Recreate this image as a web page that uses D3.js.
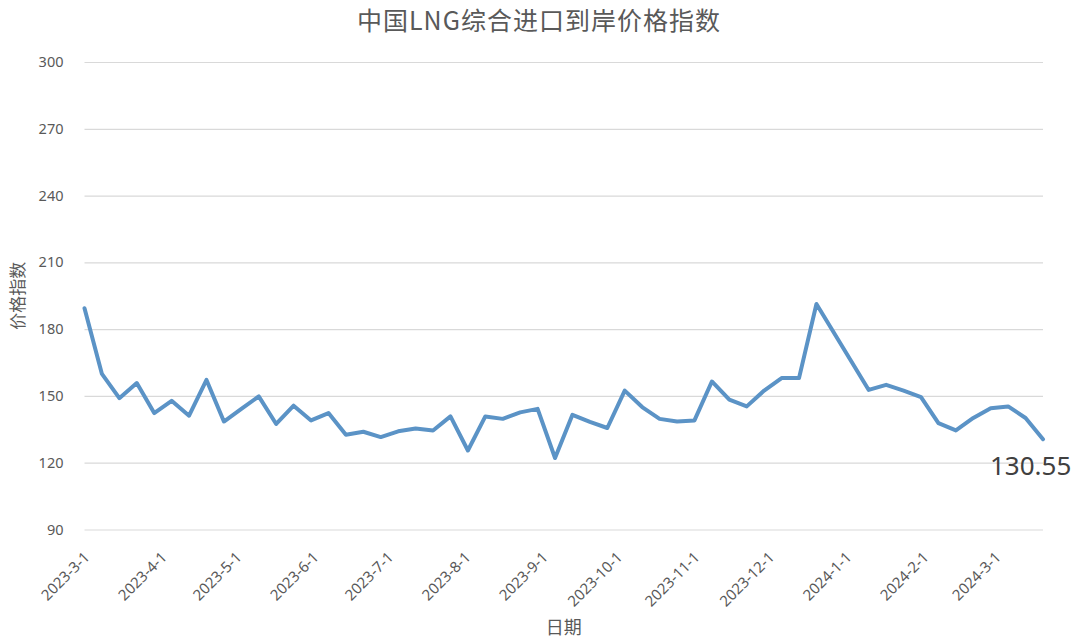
<!DOCTYPE html>
<html>
<head>
<meta charset="utf-8">
<script src="https://cdn.jsdelivr.net/npm/d3@7"></script>
<style>
  body { margin: 0; background: #fff; }
  text { font-family: "Noto Sans", "Noto Sans CJK SC", sans-serif; }
</style>
</head>
<body>
<div id="chart"></div>
<script>
// Weekly index values
const dates = [
    "2023-03-01", "2023-03-08", "2023-03-15", "2023-03-22", "2023-03-29",
    "2023-04-05", "2023-04-12", "2023-04-19", "2023-04-26",
    "2023-05-03", "2023-05-10", "2023-05-17", "2023-05-24", "2023-05-31",
    "2023-06-07", "2023-06-14", "2023-06-21", "2023-06-28",
    "2023-07-05", "2023-07-12", "2023-07-19", "2023-07-26",
    "2023-08-02", "2023-08-09", "2023-08-16", "2023-08-23", "2023-08-30",
    "2023-09-06", "2023-09-13", "2023-09-20", "2023-09-27",
    "2023-10-04", "2023-10-11", "2023-10-18", "2023-10-25",
    "2023-11-01", "2023-11-08", "2023-11-15", "2023-11-22", "2023-11-29",
    "2023-12-06", "2023-12-13", "2023-12-20",
    "2024-01-10", "2024-01-17", "2024-01-24", "2024-01-31",
    "2024-02-07", "2024-02-14", "2024-02-21", "2024-02-28",
    "2024-03-06", "2024-03-13", "2024-03-20"
];
const values = [
    189.4, 159.9, 149.0, 155.8, 142.3,
    147.8, 141.1, 157.2, 138.5,
    144.2, 149.8, 137.4, 145.6, 139.0,
    142.3, 132.6, 133.9, 131.5,
    134.1, 135.4, 134.5, 140.8,
    125.5, 140.8, 139.7, 142.6, 144.2,
    122.1, 141.5, 138.3, 135.6,
    152.4, 145.0, 139.7, 138.5,
    139.0, 156.5, 148.3, 145.3, 152.4,
    158.0, 158.0, 191.3,
    152.7, 155.0, 152.4, 149.5,
    137.8, 134.5, 140.1, 144.5,
    145.3, 140.1, 130.55
];
const yTicks = [90, 120, 150, 180, 210, 240, 270, 300];
const lastLabel = "130.55";

const parse = d3.timeParse("%Y-%m-%d");
const data = dates.map((d, i) => ({ date: parse(d), value: values[i] }));

// Chart dimensions
const width = 1080;
const height = 644;
const marginTop = 62;
const marginRight = 37;
const marginBottom = 114.5;
const marginLeft = 84.5;

const x = d3
    .scaleTime()
    .domain(d3.extent(data, (d) => d.date))
    .range([marginLeft, width - marginRight]);

const y = d3
    .scaleLinear()
    .domain([90, 300])
    .range([height - marginBottom, marginTop]);

const svg = d3
    .select("#chart")
    .append("svg")
    .attr("width", width)
    .attr("height", height)
    .attr("viewBox", [0, 0, width, height]);

// Horizontal grid lines + y labels
const yAxis = svg.append("g")
    .attr("transform", `translate(${marginLeft},0)`)
    .call(
        d3.axisLeft(y)
            .tickValues(yTicks)
            .tickSize(-(width - marginLeft - marginRight))
            .tickPadding(21)
    );
yAxis.select(".domain").remove();
yAxis.selectAll(".tick line").attr("stroke", "#d9d9d9").attr("stroke-width", 1.2);
yAxis.selectAll(".tick text")
    .attr("fill", "#595959")
    .style("font-size", "14.5px");

// X axis: monthly labels, rotated
const xAxis = svg.append("g")
    .attr("transform", `translate(0,${height - marginBottom})`)
    .call(
        d3.axisBottom(x)
            .ticks(d3.timeMonth.every(1))
            .tickFormat(d3.timeFormat("%Y-%-m-%-d"))
            .tickSize(0)
    );
xAxis.select(".domain").remove();
xAxis.selectAll(".tick text")
    .attr("fill", "#595959")
    .style("font-size", "15px")
    .attr("text-anchor", "end")
    .attr("x", 0)
    .attr("y", 0)
    .attr("dy", "0.72em")
    .attr("transform", "translate(-2,21) rotate(-45)");

// The line
const line = d3.line()
    .x((d) => x(d.date))
    .y((d) => y(d.value));

svg.append("path")
    .datum(data)
    .attr("fill", "none")
    .attr("stroke", "#5b93c6")
    .attr("stroke-width", 4)
    .attr("stroke-linejoin", "round")
    .attr("stroke-linecap", "round")
    .attr("d", line);

// Last value label
const last = data[data.length - 1];
svg.append("text")
    .attr("x", x(last.date) - 53)
    .attr("y", y(last.value) + 36)
    .attr("fill", "#404040")
    .style("font-size", "26px")
    .text(lastLabel);

// Title
svg.append("text")
    .attr("x", 539)
    .attr("y", 30)
    .attr("text-anchor", "middle")
    .attr("fill", "#595959")
    .style("font-family", "'Noto Sans CJK SC', sans-serif")
    .style("font-size", "25px")
    .style("letter-spacing", "1px")
    .text("中国LNG综合进口到岸价格指数");

// Axis titles
svg.append("text")
    .attr("transform", `translate(24,${(marginTop + height - marginBottom) / 2}) rotate(-90)`)
    .attr("text-anchor", "middle")
    .attr("fill", "#595959")
    .style("font-family", "'Noto Sans CJK SC', sans-serif")
    .style("font-size", "17px")
    .text("价格指数");

svg.append("text")
    .attr("x", (marginLeft + width - marginRight) / 2)
    .attr("y", 634)
    .attr("text-anchor", "middle")
    .attr("fill", "#595959")
    .style("font-family", "'Noto Sans CJK SC', sans-serif")
    .style("font-size", "18px")
    .text("日期");
</script>
</body>
</html>
